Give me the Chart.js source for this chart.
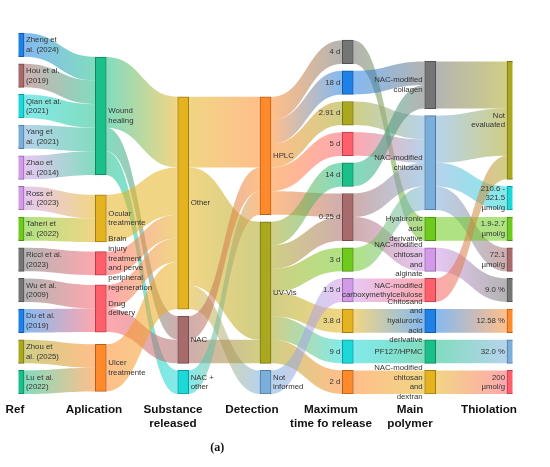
<!DOCTYPE html>
<html>
<head>
<meta charset="utf-8">
<script src="https://cdn.jsdelivr.net/npm/chart.js@4.4.1/dist/chart.umd.min.js"></script>
<style>
  html, body { margin: 0; padding: 0; background: #fff; }
  #wrap { width: 550px; height: 467px; }
</style>
</head>
<body>
<div id="wrap"><canvas id="sankey"></canvas></div>
<script>
// column titles (x axis)
const stageTitles = [['Ref'], ['Aplication'], ['Substance', 'released'], ['Detection'],
  ['Maximum', 'time fo release'], ['Main', 'polymer'], ['Thiolation']];

// node names per column, '\n' = line break in the label
const refNames = ['Zheng et\nal. (2024)', 'Hou et al.\n(2019)', 'Qian et al.\n(2021)', 'Yang et\nal. (2021)',
  'Zhao et\nal. (2014)', 'Ross et\nal. (2023)', 'Taheri et\nal. (2022)', 'Ricci et al.\n(2023)',
  'Wu et al.\n(2009)', 'Du et al.\n(2019)', 'Zhou et\nal. (2025)', 'Lu et al.\n(2022)'];
const applicationNames = ['Wound\nhealing', 'Ocular\ntreatmente',
  'Brain\ninjury\ntreatment\nand perve\nperipheral\nregeneration', 'Drug\ndelivery', 'Ulcer\ntreatmente'];
const substanceNames = ['Other', 'NAC', 'NAC +\nother'];
const detectionNames = ['HPLC', 'UV-Vis', 'Not\ninformed'];
const releaseNames = ['4 d', '18 d', '2.91 d', '5 d', '14 d', '0.25 d', '3 d', '1.5 d', '3.8 d', '9 d', '2 d'];
const polymerNames = ['NAC-modified\ncollagen', 'NAC-modified\nchitosan', 'Hyaluronic\nacid\nderivative',
  'NAC-modified\nchitosan\nand\nalginate', 'NAC-modified\ncarboxymethylcellulose',
  'Chitosand\nand\nhyaluronic\nacid\nderivative', 'PF127/HPMC', 'NAC-modified\nchitosan\nand\ndextran'];
const thiolationNames = ['Not\nevaluated', '210.6 -\n321.5\nµmol/g', '1.9-2.7\nµmol/g', '72.1\nµmol/g',
  '9.0 %', '12.58 %', '32.0 %', '200\nµmol/g'];

// flows: application of each ref (one study each), then [source, target, count]
const refApplication = [0, 0, 0, 0, 0, 1, 1, 2, 3, 3, 4, 4];
const applicationToSubstance = [[0, 0, 3], [0, 1, 1], [0, 2, 1], [1, 0, 2], [2, 0, 1], [3, 0, 1], [3, 1, 1], [4, 0, 2]];
const substanceToDetection = [[0, 0, 3], [0, 1, 5], [0, 2, 1], [1, 0, 1], [1, 1, 1], [2, 0, 1]];
const detectionToRelease = [[0, 0, 1], [0, 1, 1], [0, 2, 1], [0, 3, 1], [0, 5, 1], [1, 4, 1], [1, 5, 1],
  [1, 6, 1], [1, 8, 1], [1, 9, 1], [1, 10, 1], [2, 7, 1]];
const releaseToPolymer = [[0, 2, 1], [1, 0, 1], [2, 1, 1], [3, 1, 1], [4, 0, 1], [5, 1, 1], [5, 3, 1],
  [6, 1, 1], [7, 4, 1], [8, 5, 1], [9, 6, 1], [10, 7, 1]];
const polymerToThiolation = [[0, 0, 2], [1, 0, 2], [1, 1, 1], [1, 3, 1], [2, 2, 1], [3, 4, 1], [4, 0, 1],
  [5, 5, 1], [6, 6, 1], [7, 7, 1]];

// colours
const BLUE = '#1f80e6', ROSE = '#a86b6b', CYAN = '#1cd9d9', LBLUE = '#7aafdc', LAV = '#d29ae8',
  GREEN = '#6ecb1e', GRAY = '#757575', OLIVE = '#aaa720', TEAL = '#1bbf89', GOLD = '#e5b320',
  RED = '#ff5f6b', ORANGE = '#ff8a2c';
const stageColors = [
  [BLUE, ROSE, CYAN, LBLUE, LAV, LAV, GREEN, GRAY, GRAY, BLUE, OLIVE, TEAL],
  [TEAL, GOLD, RED, RED, ORANGE],
  [GOLD, ROSE, CYAN],
  [ORANGE, OLIVE, LBLUE],
  [GRAY, BLUE, OLIVE, RED, TEAL, ROSE, GREEN, LAV, GOLD, CYAN, ORANGE],
  [GRAY, LBLUE, GREEN, LAV, RED, BLUE, TEAL, GOLD],
  [OLIVE, CYAN, GREEN, ROSE, GRAY, ORANGE, LBLUE, RED]
];

const stageNames = [refNames, applicationNames, substanceNames, detectionNames, releaseNames, polymerNames, thiolationNames];
const stageLinks = [refApplication.map((t, i) => [i, t, 1]), applicationToSubstance, substanceToDetection,
  detectionToRelease, releaseToPolymer, polymerToThiolation];

const NODE_W = 11;
const PAD = 0.3;      // gap between nodes, in flow units
const Y_MAX = 16.45;  // height of the plot in flow units
const ITER = 32;

// build the graph
const columns = stageNames.map((names, c) => names.map((name, i) => ({
  col: c, name: name, color: stageColors[c][i], sourceLinks: [], targetLinks: []
})));
const links = [];
stageLinks.forEach((list, c) => {
  list.forEach(([s, t, v]) => {
    const l = { source: columns[c][s], target: columns[c + 1][t], value: v };
    l.source.sourceLinks.push(l);
    l.target.targetLinks.push(l);
    links.push(l);
  });
});
const nodes = columns.flat();
nodes.forEach(n => {
  const out = n.sourceLinks.reduce((a, l) => a + l.value, 0);
  const inn = n.targetLinks.reduce((a, l) => a + l.value, 0);
  n.value = Math.max(out, inn);
});

// classic sankey relaxation (node order kept as listed)
const mid = n => n.y0 + n.value / 2;
function moveTo(n, y) { n.y0 = y; n.y1 = y + n.value; }
function resolveCollisions() {
  columns.forEach(col => {
    let y = 0;
    col.forEach(n => { if (n.y0 < y) moveTo(n, y); y = n.y1 + PAD; });
    let over = y - PAD - Y_MAX;
    if (over > 0) {
      let last = col[col.length - 1];
      moveTo(last, last.y0 - over);
      y = last.y0;
      for (let i = col.length - 2; i >= 0; i--) {
        const n = col[i];
        const d = n.y1 + PAD - y;
        if (d > 0) moveTo(n, n.y0 - d);
        y = n.y0;
      }
    }
  });
}
function relax(fromRight, alpha) {
  const order = fromRight ? columns.slice().reverse() : columns;
  order.forEach(col => col.forEach(n => {
    const list = fromRight ? n.sourceLinks : n.targetLinks;
    if (!list.length) return;
    let y = 0, w = 0;
    list.forEach(l => { y += mid(fromRight ? l.target : l.source) * l.value; w += l.value; });
    moveTo(n, n.y0 + (y / w - mid(n)) * alpha);
  }));
}

columns.forEach(col => col.forEach((n, i) => moveTo(n, i)));
resolveCollisions();
for (let it = 0, alpha = 1; it < ITER; it++) {
  alpha *= 0.99;
  relax(true, alpha);
  resolveCollisions();
  relax(false, alpha);
  resolveCollisions();
}
nodes.forEach(n => {
  n.sourceLinks.sort((a, b) => a.target.y0 - b.target.y0);
  n.targetLinks.sort((a, b) => a.source.y0 - b.source.y0);
  let y = n.y0;
  n.sourceLinks.forEach(l => { l.sy = y; y += l.value; });
  y = n.y0;
  n.targetLinks.forEach(l => { l.ty = y; y += l.value; });
});

function rgba(hex, a) {
  const v = parseInt(hex.slice(1), 16);
  return `rgba(${v >> 16},${(v >> 8) & 255},${v & 255},${a})`;
}
function darker(hex) {
  const v = parseInt(hex.slice(1), 16);
  const k = 0.7;
  return `rgb(${Math.round((v >> 16) * k)},${Math.round(((v >> 8) & 255) * k)},${Math.round((v & 255) * k)})`;
}

const sankeyPlugin = {
  id: 'sankeyFlows',
  beforeDatasetsDraw(chart) {
    const ctx = chart.ctx, xs = chart.scales.x, ys = chart.scales.y;
    ctx.save();
    links.forEach(l => {
      const x0 = xs.getPixelForValue(l.source.col) + NODE_W / 2;
      const x1 = xs.getPixelForValue(l.target.col) - NODE_W / 2;
      const xm = (x0 + x1) / 2;
      const sTop = ys.getPixelForValue(l.sy), sBot = ys.getPixelForValue(l.sy + l.value);
      const tTop = ys.getPixelForValue(l.ty), tBot = ys.getPixelForValue(l.ty + l.value);
      const g = ctx.createLinearGradient(x0, 0, x1, 0);
      g.addColorStop(0, rgba(l.source.color, 0.55));
      g.addColorStop(1, rgba(l.target.color, 0.55));
      ctx.fillStyle = g;
      ctx.beginPath();
      ctx.moveTo(x0, sTop);
      ctx.bezierCurveTo(xm, sTop, xm, tTop, x1, tTop);
      ctx.lineTo(x1, tBot);
      ctx.bezierCurveTo(xm, tBot, xm, sBot, x0, sBot);
      ctx.closePath();
      ctx.fill();
    });
    ctx.restore();
  },
  afterDatasetsDraw(chart) {
    const ctx = chart.ctx, xs = chart.scales.x, ys = chart.scales.y;
    ctx.save();
    ctx.font = '7.8px "Liberation Sans", Arial, sans-serif';
    ctx.fillStyle = '#333';
    ctx.textBaseline = 'middle';
    const lh = 9.7;
    nodes.forEach(n => {
      const lines = n.name.split('\n');
      const xc = xs.getPixelForValue(n.col);
      const yc = (ys.getPixelForValue(n.y0) + ys.getPixelForValue(n.y1)) / 2;
      const left = n.col < 4;
      ctx.textAlign = left ? 'left' : 'right';
      const x = left ? xc + NODE_W / 2 + 2 : xc - NODE_W / 2 - 2;
      lines.forEach((t, i) => {
        ctx.fillText(t, x, yc + (i - (lines.length - 1) / 2) * lh);
      });
    });
    // panel letter
    const st = chart.scales.stage;
    ctx.font = 'bold 12px "Liberation Serif", "Times New Roman", serif';
    ctx.fillStyle = '#111';
    ctx.textAlign = 'center';
    ctx.fillText('(a)', st.getPixelForValue(2.56), 448);
    ctx.restore();
  }
};

new Chart(document.getElementById('sankey'), {
  type: 'bar',
  data: {
    datasets: [{
      data: nodes.map(n => ({ x: n.col, y: [n.y0, n.y1] })),
      backgroundColor: nodes.map(n => n.color),
      borderColor: nodes.map(n => darker(n.color)),
      borderWidth: 1,
      borderSkipped: false,
      barThickness: NODE_W
    }]
  },
  options: {
    responsive: true,
    maintainAspectRatio: false,
    animation: false,
    events: [],
    layout: { padding: { left: 18.5, right: 37.5, top: 6, bottom: 0 } },
    plugins: { legend: { display: false }, tooltip: { enabled: false } },
    scales: {
      x: { type: 'linear', min: 0, max: 6, display: false, offset: false },
      y: { type: 'linear', min: 0, max: Y_MAX, reverse: true, display: false },
      stage: {
        type: 'linear',
        axis: 'x',
        position: 'bottom',
        offset: false,
        min: 0.0443,
        max: 6.2975,
        grid: { display: false, drawTicks: false, offset: false },
        border: { display: false },
        afterBuildTicks: s => { s.ticks = stageTitles.map((t, i) => ({ value: i })); },
        afterFit: s => { s.height = 73; s.paddingLeft = 0; s.paddingRight = 0; },
        ticks: {
          autoSkip: false,
          maxRotation: 0,
          padding: 8,
          color: '#111',
          font: { family: '"Liberation Sans", Arial, sans-serif', size: 11.7, weight: 'bold', lineHeight: 1.25 },
          callback: v => stageTitles[v]
        }
      }
    }
  },
  plugins: [sankeyPlugin]
});
</script>
</body>
</html>
